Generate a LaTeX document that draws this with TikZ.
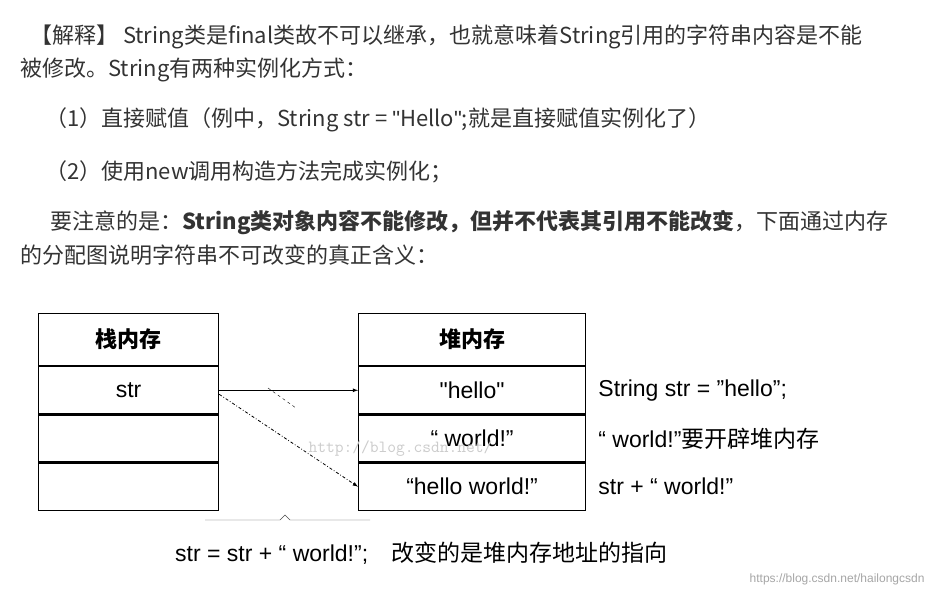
\documentclass[tikz,border=0pt]{standalone}
\usepackage{fontspec}
\setmainfont{Noto Sans CJK SC}
\newfontfamily\figfont{Liberation Sans}
\newfontfamily\cjk{Noto Sans CJK SC}
\usetikzlibrary{positioning}
\tikzset{para/.style={anchor=west,inner sep=0pt,font=\fontsize{22}{26}\selectfont,text=black!80},
         cell/.style={draw,very thick,minimum width=180pt,minimum height=47pt,inner sep=0pt,font=\fontsize{23}{26}\selectfont\figfont},
         hcell/.style={cell,minimum height=52pt,font=\fontsize{22}{26}\selectfont\bfseries},
         note/.style={anchor=west,inner sep=0pt,font=\fontsize{23}{26}\selectfont\figfont}
}
\begin{document}
\begin{tikzpicture}[x=1pt,y=-1pt]
\useasboundingbox (0,0) rectangle (933,595);
\fill[white] (0,0) rectangle (933,595);

\node[para] (p1) at (30,37) {【解释】 String类是final类故不可以继承，也就意味着String引用的字符串内容是不能};
\node[para] (p2) at (20,70) {被修改。String有两种实例化方式：};
\node[para] (p3) at (45,120) {（1）直接赋值（例中，String str = {\figfont"}Hello{\figfont"};就是直接赋值实例化了）};
\node[para] (p4) at (45,172) {（2）使用new调用构造方法完成实例化；};
\node[para] (p5) at (50,223) {要注意的是：\textbf{String类对象内容不能修改，但并不代表其引用不能改变}，下面通过内存};
\node[para] (p6) at (20,255) {的分配图说明字符串不可改变的真正含义：};

% stack
\node[hcell,anchor=north west] (stack) at (38,313) {栈内存};
\node[cell,below=0pt of stack] (s1) {str};
\node[cell,below=0pt of s1] (s2) {};
\node[cell,below=0pt of s2] (s3) {};
% heap
\node[hcell,anchor=north west,minimum width=227pt] (heap) at (358,313) {堆内存};
\node[cell,minimum width=227pt,below=0pt of heap] (h1) {"hello"};
\node[cell,minimum width=227pt,below=0pt of h1] (h2) {“ world!”};
\node[cell,minimum width=227pt,below=0pt of h2] (h3) {“hello world!”};

\node[note,right=12pt of h1] (n1) {String str = ”hello”;};
\node[note,right=12pt of h2] (n2) {“ world!”{\cjk 要开辟堆内存}};
\node[note,right=12pt of h3] (n3) {str + “ world!”};

\draw[-latex,thick] (s1.east) -- (h1.west);
\draw[-latex,thick,dash dot] ([yshift=-4pt]s1.east) -- (h3.west);
\draw[thin,dashed] (268,388) -- (296,408);
\draw[thin,black!70] (205,520) -- (280,520) -- (285,515) -- (290,520) -- (370,520);

\node[note,anchor=west] (cap) at (175,553) {str = str + “ world!”;\quad{\cjk 改变的是堆内存地址的指向}};
\node[anchor=west,text=black!20,font=\fontsize{17}{20}\selectfont\ttfamily] (wm) at (305,449) {http://blog.csdn.net/};
\node[anchor=east,text=black!35,font=\fontsize{12}{14}\selectfont\figfont] (wm2) at (928,579) {https://blog.csdn.net/hailongcsdn};
\end{tikzpicture}
\end{document}
